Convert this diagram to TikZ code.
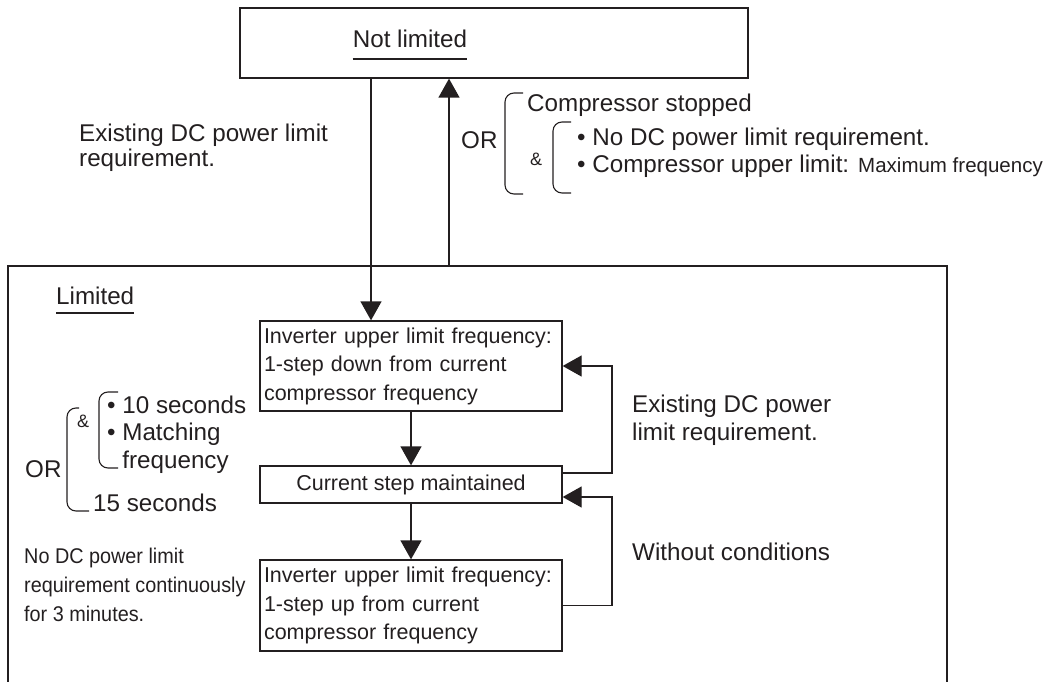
\documentclass[tikz,border=0pt]{standalone}
\usepackage{fontspec}
\setmainfont{Liberation Sans}
\newfontfamily\narrowfont[FakeStretch=0.93]{Liberation Sans}
\usetikzlibrary{arrows.meta}
\definecolor{ink}{RGB}{35,31,32}
\newcommand{\mylines}[1]{\begin{tabular}[t]{@{}l@{}}#1\end{tabular}}
\begin{document}
\begin{tikzpicture}[x=1pt,y=-1pt,
  every node/.style={inner sep=0pt, text=ink},
  lbl/.style={anchor=base west, font=\fontsize{24.2}{26}\selectfont},
  amp/.style={anchor=base west, font=\fontsize{18}{20}\selectfont},
  small/.style={anchor=base west, font=\narrowfont\fontsize{21.3}{29}\selectfont},
  stbox/.style={draw=ink, line width=1.3pt, minimum width=302pt, font=\fontsize{21.5}{28.5}\selectfont},
  arr/.style={draw=ink, line width=1.3pt, -{Triangle[width=21pt,length=19pt]}},
  ln/.style={draw=ink, line width=1.3pt},
  brk/.style={draw=ink, line width=1.1pt, rounded corners=9pt},
]
\useasboundingbox (0,0) rectangle (1054,682);

% Not limited state
\node[draw=ink, line width=1.3pt, minimum width=508pt, minimum height=70pt] (nl) at (494,43) {};
\node[lbl, anchor=base] (nlt) at (410,48) {Not limited};
\draw[ln] ([yshift=-11pt]nlt.base west) -- ([yshift=-11pt]nlt.base east);

% Limited frame (open at bottom)
\draw[ln] (8,682) -- (8,266) -- (947,266) -- (947,682);
\node[lbl] (limt) at (56,304) {Limited};
\draw[ln] ([yshift=-9pt]limt.base west) -- ([yshift=-9pt]limt.base east);

% State boxes
\node[stbox, minimum height=90pt, text width=294pt, inner xsep=4pt, align=left] (b1) at (411,366)
  {Inverter upper limit frequency:\\1-step down from current\\compressor frequency};
\node[stbox, minimum height=37pt] (b2) at (411,484.5) {Current step maintained};
\node[stbox, minimum height=91pt, text width=294pt, inner xsep=4pt, align=left] (b3) at (411,605.5)
  {Inverter upper limit frequency:\\1-step up from current\\compressor frequency};

% Coordinates for connectors
\coordinate (xa) at (371,0);
\coordinate (limtop) at (449,266);
\coordinate (r1) at (612,473);
\coordinate (r2) at (612,497);

% Connectors
\draw[arr] (nl.south -| xa) -- (b1.north -| xa);
\draw[arr] (limtop) -- (limtop |- nl.south);
\draw[arr] (b1.south) -- (b1.south |- b2.north);
\draw[arr] (b2.south) -- (b2.south |- b3.north);
\draw[arr] (b2.east |- r1) -- (r1) -- (r1 |- b1.east) -- (b1.east);
\draw[arr] (b3.east) -- (b3.east -| r2) -- (r2) -- (b2.east |- r2);

% Top-left label
\node[lbl, font=\fontsize{24.2}{24}\selectfont] (tl) at (79,142) {\mylines{Existing DC power limit\\requirement.}};

% Top-right conditions
\node[lbl] (or1) at (461,148) {OR};
\draw[brk] (523,93) -- (505,93) -- (505,194) -- (523,194);
\node[lbl] (cs) at (527,112) {Compressor stopped};
\node[amp] (amp1) at (530,165) {\&};
\draw[brk] (571,122) -- (553,122) -- (553,193) -- (571,193);
\node[lbl] (c1) at (577,145) {• No DC power limit requirement.};
\node[lbl] (c2) at (577,172) {• Compressor upper limit: {\fontsize{20.5}{22}\selectfont Maximum frequency}};

% Left conditions
\node[lbl] (or2) at (25,477) {OR};
\draw[brk] (79,408) -- (67,408) -- (67,511) -- (89,511);
\node[amp] (amp2) at (77,427) {\&};
\draw[brk] (118,392) -- (99,392) -- (99,468) -- (118,468);
\node[lbl, font=\fontsize{24.2}{27.5}\selectfont] (l1) at (107,413) {\mylines{• 10 seconds\\• Matching\\\phantom{• }frequency}};
\node[lbl] (l2) at (93,511) {15 seconds};

\node[small] (l3) at (24,563) {\mylines{No DC power limit\\requirement continuously\\for 3 minutes.}};

% Right labels
\node[lbl, font=\fontsize{24.2}{28}\selectfont] (rl1) at (632,412) {\mylines{Existing DC power\\limit requirement.}};
\node[lbl] (rl2) at (632,560) {Without conditions};
\end{tikzpicture}
\end{document}
